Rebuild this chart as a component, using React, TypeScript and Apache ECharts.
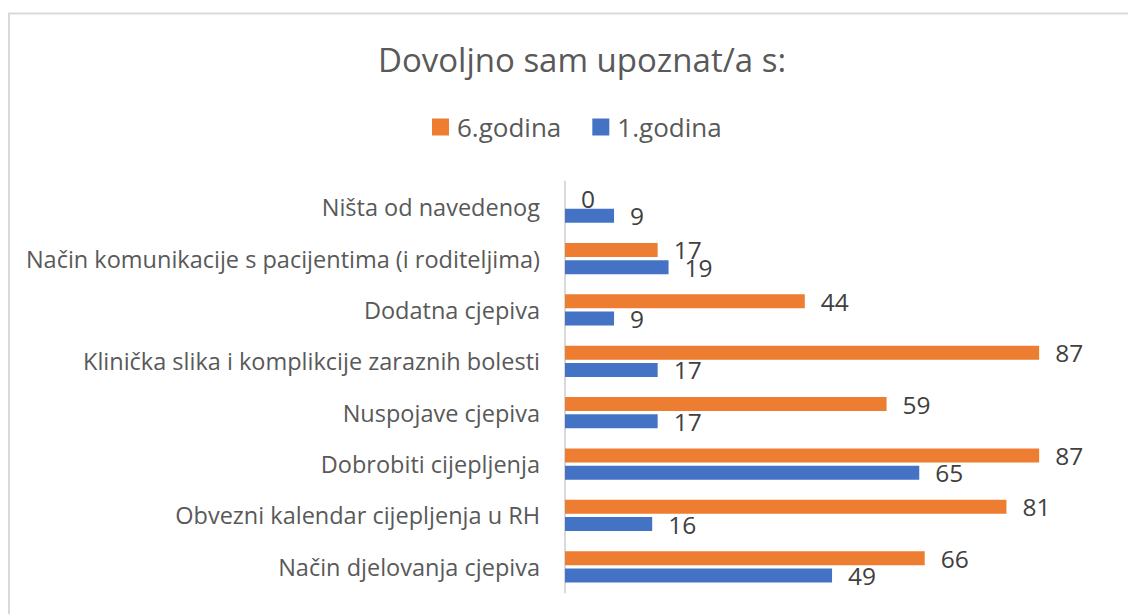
import React, { useEffect, useRef } from "react";
import * as echarts from "echarts";

const categories = [
  "Ništa od navedenog",
  "Način komunikacije s pacijentima (i roditeljima)",
  "Dodatna cjepiva",
  "Klinička slika i komplikcije zaraznih bolesti",
  "Nuspojave cjepiva",
  "Dobrobiti cijepljenja",
  "Obvezni kalendar cijepljenja u RH",
  "Način djelovanja cjepiva",
];
const godina6 = [0, 17, 44, 87, 59, 87, 81, 66];
const godina1 = [9, 19, 9, 17, 17, 65, 16, 49];
const seriesNames = ["6.godina", "1.godina"];
const titleText = "Dovoljno sam upoznat/a s:";

const FONT = "'Open Sans', 'Noto Sans', sans-serif";

export default function App() {
  const ref = useRef<HTMLDivElement>(null);
  useEffect(() => {
    if (!ref.current) return;
    const chart = echarts.init(ref.current, null, { renderer: "svg" });
    const labelStyle = {
      show: true,
      position: "right",
      distance: 16,
      fontFamily: FONT,
      fontSize: 24.5,
      color: "#404040",
    };
    chart.setOption({
      animation: false,
      backgroundColor: "#ffffff",
      title: {
        text: titleText,
        left: 577,
        top: 38,
        textAlign: "center",
        textStyle: {
          fontFamily: FONT,
          fontSize: 33,
          fontWeight: "normal",
          color: "#595959",
        },
      },
      legend: {
        data: seriesNames,
        left: 427,
        top: 109,
        icon: "rect",
        itemWidth: 17,
        itemHeight: 17,
        itemGap: 31,
        textStyle: {
          fontFamily: FONT,
          fontSize: 26,
          color: "#595959",
          padding: [0, 0, 0, 3],
        },
      },
      graphic: [
        {
          type: "rect",
          shape: { x: 9, y: 13.5, width: 1200, height: 700 },
          style: { fill: "none", stroke: "#d9d9d9", lineWidth: 2 },
          silent: true,
        },
      ],
      grid: {
        left: 565,
        top: 181.5,
        height: 411,
        width: 545,
        containLabel: false,
      },
      xAxis: {
        type: "value",
        min: 0,
        max: 100,
        show: false,
        splitLine: { show: false },
      },
      yAxis: {
        type: "category",
        data: categories,
        inverse: true,
        axisLine: { show: true, lineStyle: { color: "#d9d9d9", width: 2 } },
        axisTick: { show: false },
        axisLabel: {
          fontFamily: FONT,
          fontSize: 23.5,
          color: "#595959",
          margin: 25,
        },
      },
      series: [
        {
          name: seriesNames[0],
          type: "bar",
          data: godina6,
          barWidth: 14,
          barGap: "24%",
          itemStyle: { color: "#ED7D31" },
          label: labelStyle,
        },
        {
          name: seriesNames[1],
          type: "bar",
          data: godina1,
          barWidth: 14,
          barGap: "24%",
          itemStyle: { color: "#4472C4" },
          label: labelStyle,
        },
      ],
    });
    return () => chart.dispose();
  }, []);
  return (
    <div
      ref={ref}
      style={{ position: "fixed", left: 0, top: 0, width: 1128, height: 614, background: "#fff" }}
    />
  );
}
